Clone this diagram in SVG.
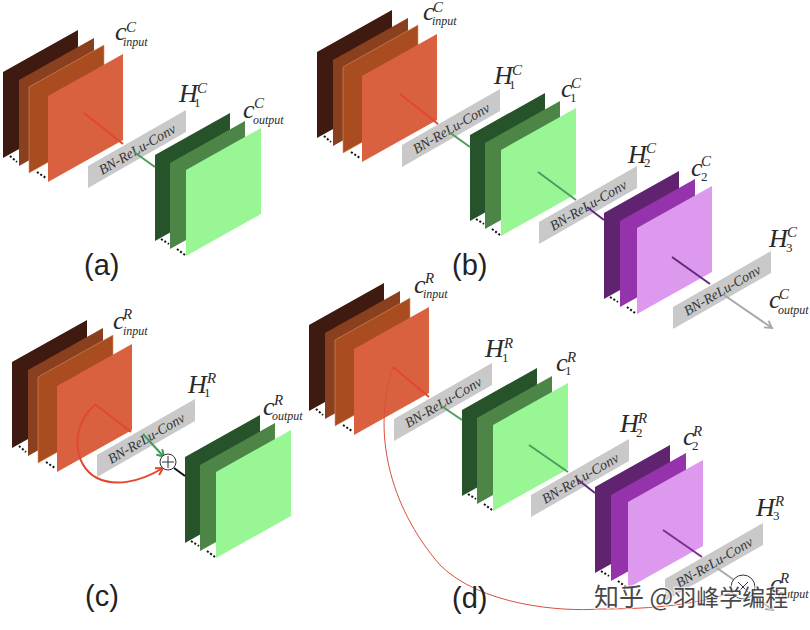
<svg xmlns="http://www.w3.org/2000/svg" xmlns:xlink="http://www.w3.org/1999/xlink" width="810" height="630" viewBox="0 0 810 630">
<style>
text{font-family:"Liberation Serif","Times New Roman",serif;font-style:italic;fill:#2a2a2a}
.m{font-size:26px}.s{font-size:15px}.b{font-size:12px}.n{font-size:13px;font-style:normal}
.bt{font-size:14px;fill:#333}
.bar{fill:#c9c9c9}
.dots{fill:none;stroke:#111;stroke-width:2;stroke-dasharray:2 2}
.panel{font-family:"Liberation Sans",Arial,sans-serif;font-style:normal;font-size:29px;fill:#222}
.c{fill:none;stroke-width:2}
.red{stroke:#e2472f}.grn{stroke:#4f9a60}.pur{stroke:#5f2a78}.gry{stroke:#a8a8a8}.blk{stroke:#111}
.wm{font-family:"Noto Sans CJK SC","Liberation Sans",sans-serif;font-style:normal;font-size:25px}
.wm2{font-size:23px}
</style>
<defs>
<polygon id="p" points="0,0 75,-42 75,44 0,86"/>
<marker id="ag" markerWidth="10" markerHeight="10" refX="8" refY="5" orient="auto" markerUnits="userSpaceOnUse"><path d="M1,1 L8,5 L1,9" fill="none" stroke="#a8a8a8" stroke-width="1.8"/></marker>
<marker id="agr" markerWidth="10" markerHeight="10" refX="8" refY="5" orient="auto" markerUnits="userSpaceOnUse"><path d="M1,1 L8,5 L1,9" fill="none" stroke="#3f9a58" stroke-width="2"/></marker>
<marker id="ar" markerWidth="10" markerHeight="10" refX="8" refY="5" orient="auto" markerUnits="userSpaceOnUse"><path d="M1,1 L8,5 L1,9" fill="none" stroke="#e2472f" stroke-width="2"/></marker>
<g id="rs">
<use xlink:href="#p" href="#p" fill="#3f1a10"/>
<path class="dots" d="M7,84 L14,90"/>
<use xlink:href="#p" href="#p" x="16" y="8" fill="#8a3f1e"/>
<use xlink:href="#p" href="#p" x="26" y="15" fill="#a94c20" stroke="#d9905f" stroke-width=".6"/>
<path class="dots" d="M34,100 L43,106"/>
<use xlink:href="#p" href="#p" x="45" y="24" fill="#d9613f"/>
</g>
<g id="gs">
<use xlink:href="#p" href="#p" fill="#27532a"/>
<path class="dots" d="M6,84 L14,89"/>
<use xlink:href="#p" href="#p" x="15" y="8" fill="#4d8547"/>
<path class="dots" d="M22,94 L30,100"/>
<use xlink:href="#p" href="#p" x="31" y="15" fill="#98f794"/>
</g>
<g id="ps">
<use xlink:href="#p" href="#p" fill="#5f2370"/>
<path class="dots" d="M6,84 L14,89"/>
<use xlink:href="#p" href="#p" x="16" y="8" fill="#9433ab"/>
<path class="dots" d="M23,94 L31,100"/>
<use xlink:href="#p" href="#p" x="33" y="15" fill="#dd99ee"/>
</g>
<g id="bar">
<polygon class="bar" points="0,0 98,-56 98,-34 0,22"/>
<text class="bt" text-anchor="middle" transform="translate(49,-17) rotate(-30)" y="5">BN-ReLu-Conv</text>
</g>
</defs>

<g id="a-input"><use xlink:href="#rs" href="#rs" x="3" y="72"/>
<text><tspan class="m" x="115" y="40">c</tspan><tspan class="s" x="126" y="32">C</tspan><tspan class="b" x="123" y="46">input</tspan></text></g>
<g id="a-h1"><use xlink:href="#bar" href="#bar" x="88" y="166"/>
<text><tspan class="m" x="179" y="102">H</tspan><tspan class="s" x="197" y="93">C</tspan><tspan class="n" x="194" y="107">1</tspan></text></g>
<g id="a-output"><use xlink:href="#gs" href="#gs" x="155" y="155"/>
<text><tspan class="m" x="243" y="118">c</tspan><tspan class="s" x="254" y="108">C</tspan><tspan class="b" x="253" y="124">output</tspan></text></g>

<g id="b-input"><use xlink:href="#rs" href="#rs" x="317" y="52"/>
<text><tspan class="m" x="423" y="20">c</tspan><tspan class="s" x="433" y="12">C</tspan><tspan class="b" x="432" y="25">input</tspan></text></g>
<g id="b-h1"><use xlink:href="#bar" href="#bar" x="402" y="145"/>
<text><tspan class="m" x="494" y="84">H</tspan><tspan class="s" x="512" y="75">C</tspan><tspan class="n" x="509" y="89">1</tspan></text></g>
<g id="b-c1"><use xlink:href="#gs" href="#gs" x="470" y="135"/>
<text><tspan class="m" x="561" y="97">c</tspan><tspan class="s" x="571" y="88">C</tspan><tspan class="n" x="570" y="102">1</tspan></text></g>
<g id="b-h2"><use xlink:href="#bar" href="#bar" x="539" y="222"/>
<text><tspan class="m" x="628" y="163">H</tspan><tspan class="s" x="646" y="153">C</tspan><tspan class="n" x="644" y="167">2</tspan></text></g>
<g id="b-c2"><use xlink:href="#ps" href="#ps" x="604" y="213"/>
<text><tspan class="m" x="691" y="176">c</tspan><tspan class="s" x="701" y="166">C</tspan><tspan class="n" x="701" y="181">2</tspan></text></g>
<g id="b-h3"><use xlink:href="#bar" href="#bar" x="673" y="307"/>
<text><tspan class="m" x="769" y="247">H</tspan><tspan class="s" x="787" y="237">C</tspan><tspan class="n" x="786" y="252">3</tspan></text></g>
<g id="b-output"><text><tspan class="m" x="769" y="308">c</tspan><tspan class="s" x="779" y="299">C</tspan><tspan class="b" x="778" y="314">output</tspan></text></g>

<g id="c-input"><use xlink:href="#rs" href="#rs" x="12" y="362"/>
<text><tspan class="m" x="113" y="329">c</tspan><tspan class="s" x="123" y="319">R</tspan><tspan class="b" x="123" y="335">input</tspan></text></g>
<g id="c-h1"><use xlink:href="#bar" href="#bar" x="97" y="455"/>
<text><tspan class="m" x="188" y="393">H</tspan><tspan class="s" x="207" y="383">R</tspan><tspan class="n" x="204" y="397">1</tspan></text></g>
<g id="c-output"><use xlink:href="#gs" href="#gs" x="185" y="457"/>
<text><tspan class="m" x="263" y="415">c</tspan><tspan class="s" x="274" y="405">R</tspan><tspan class="b" x="272" y="420">output</tspan></text></g>

<g id="d-input"><use xlink:href="#rs" href="#rs" x="309" y="325"/>
<text><tspan class="m" x="414" y="293">c</tspan><tspan class="s" x="425" y="283">R</tspan><tspan class="b" x="423" y="298">input</tspan></text></g>
<g id="d-h1"><use xlink:href="#bar" href="#bar" x="394" y="419"/>
<text><tspan class="m" x="485" y="357">H</tspan><tspan class="s" x="504" y="348">R</tspan><tspan class="n" x="502" y="362">1</tspan></text></g>
<g id="d-c1"><use xlink:href="#gs" href="#gs" x="462" y="410"/>
<text><tspan class="m" x="556" y="371">c</tspan><tspan class="s" x="567" y="362">R</tspan><tspan class="n" x="565" y="375">1</tspan></text></g>
<g id="d-h2"><use xlink:href="#bar" href="#bar" x="531" y="495"/>
<text><tspan class="m" x="620" y="432">H</tspan><tspan class="s" x="638" y="423">R</tspan><tspan class="n" x="636" y="437">2</tspan></text></g>
<g id="d-c2"><use xlink:href="#ps" href="#ps" x="595" y="487"/>
<text><tspan class="m" x="683" y="445">c</tspan><tspan class="s" x="693" y="436">R</tspan><tspan class="n" x="692" y="450">2</tspan></text></g>
<g id="d-h3"><use xlink:href="#bar" href="#bar" x="665" y="579"/>
<text><tspan class="m" x="756" y="516">H</tspan><tspan class="s" x="775" y="506">R</tspan><tspan class="n" x="773" y="520">3</tspan></text></g>

<g id="connectors">
<path class="c red" d="M84,113 L123,144"/>
<path class="c grn" d="M134,152 L155,167"/>
<path class="c red" d="M400,94 L438,124"/>
<path class="c grn" d="M449,132 L470,147"/>
<path class="c grn" d="M538,172 L576,200"/>
<path class="c pur" d="M587,207 L604,220"/>
<path class="c pur" d="M672,257 L710,284"/>
<path class="c gry" d="M724,295 L772,328" marker-end="url(#ag)"/>
<path class="c red" d="M96,405 L131,432"/>
<path class="c" stroke="#3f9a58" d="M143,434 L164,457" marker-end="url(#agr)"/>
<path class="c blk" d="M174,468 L185,476"/>
<path class="c red" d="M96,404 C70,425 72,465 97,478 C115,487 140,482 163,468" marker-end="url(#ar)"/>
<path class="c red" d="M393,367 L429,397"/>
<path class="c grn" d="M440,405 L462,420"/>
<path class="c grn" d="M529,445 L568,472"/>
<path class="c pur" d="M577,479 L595,493"/>
<path class="c" stroke="#7a2e94" d="M663,530 L702,557"/>
<path class="c gry" d="M717,568 L734,580"/>
<path class="c gry" d="M752,595 L773,610" marker-end="url(#ag)"/>
<path fill="none" stroke="#d9503c" stroke-width="1" d="M393,367 C372,430 388,505 440,565 C480,605 560,612 600,609 C640,609 690,607 733,592"/>
</g>

<g id="c-plus"><circle cx="168" cy="462" r="8" fill="#fff" stroke="#333"/><path d="M162,462 H174 M168,456 V468" stroke="#333" fill="none"/></g>
<g id="d-times"><circle cx="743" cy="587" r="12" fill="#fff" stroke="#333"/><path d="M738,582 L748,592 M748,582 L738,592" stroke="#333" fill="none"/></g>
<g id="d-output"><text><tspan class="m" x="770" y="592">c</tspan><tspan class="s" x="780" y="583">R</tspan><tspan class="b" x="778" y="598">output</tspan></text></g>

<text class="panel" x="84" y="275">(a)</text>
<text class="panel" x="452" y="275">(b)</text>
<text class="panel" x="85" y="606">(c)</text>
<text class="panel" x="452" y="608">(d)</text>

<text class="wm" x="594" y="606" fill="#fff" stroke="#fff" stroke-width="2.5" opacity=".6">知乎 @<tspan class="wm2">羽峰学编程</tspan></text>
<text class="wm" x="594" y="606" fill="#cfcfcf" opacity=".85">知乎 @<tspan class="wm2">羽峰学编程</tspan></text>
</svg>
